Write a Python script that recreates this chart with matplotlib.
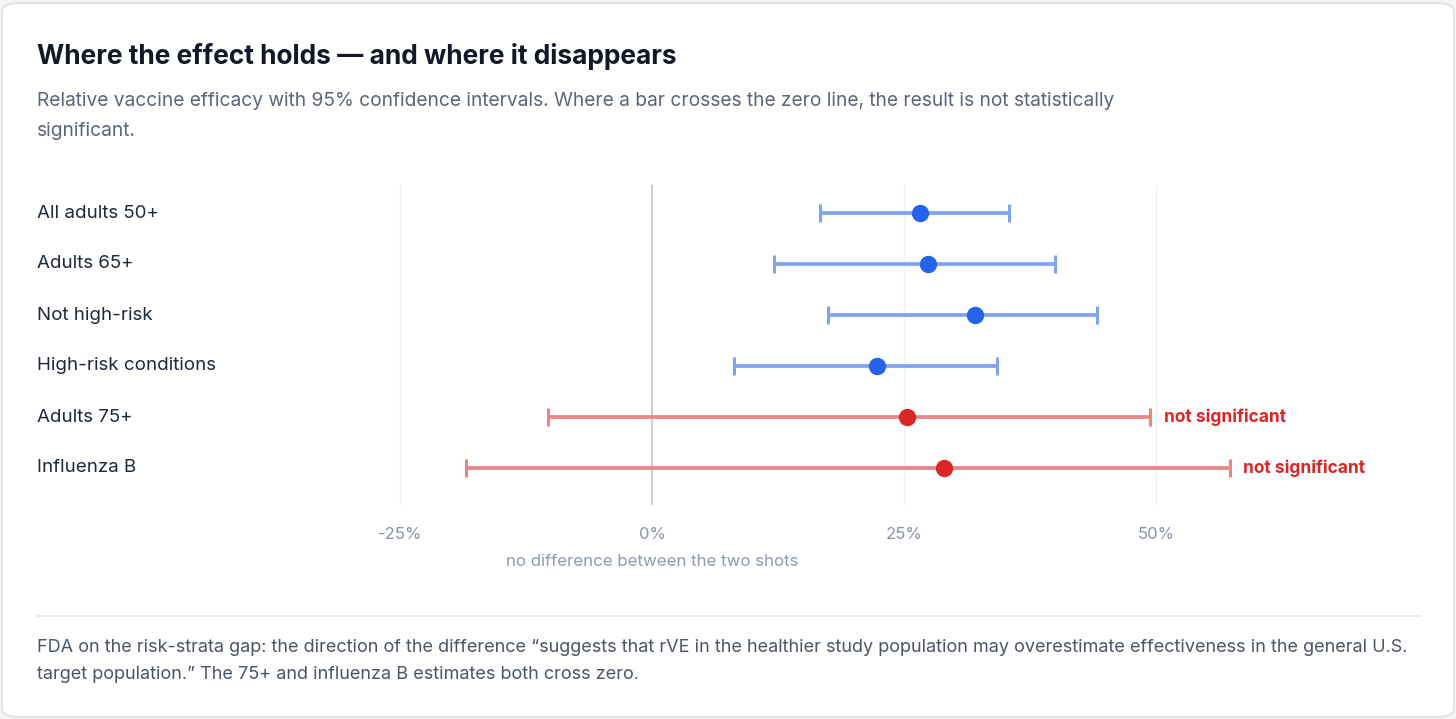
import matplotlib
matplotlib.use("Agg")
import matplotlib.pyplot as plt
from matplotlib.patches import FancyBboxPatch
from matplotlib.lines import Line2D
from matplotlib.transforms import blended_transform_factory

plt.rcParams['font.family'] = ['Inter', 'DejaVu Sans']

# ---- data ----
categories = ["All adults 50+", "Adults 65+", "Not high-risk",
              "High-risk conditions", "Adults 75+", "Influenza B"]
estimates = [26.6, 27.4, 32.0, 22.3, 25.3, 29.0]
ci_low = [16.7, 12.1, 17.5, 8.1, -10.3, -18.5]
ci_high = [35.4, 40.0, 44.1, 34.2, 49.4, 57.3]
significant = [True, True, True, True, False, False]
tick_values = [-25, 0, 25, 50]
tick_labels = ["-25%", "0%", "25%", "50%"]

title = "Where the effect holds \u2014 and where it disappears"
subtitle = ("Relative vaccine efficacy with 95% confidence intervals. Where a bar crosses the zero line, the result is not statistically\n"
            "significant.")
footer = ("FDA on the risk-strata gap: the direction of the difference \u201csuggests that rVE in the healthier study population may overestimate effectiveness in the general U.S.\n"
          "target population.\u201d The 75+ and influenza B estimates both cross zero.")

W, H = 1456, 719
fig = plt.figure(figsize=(W / 100, H / 100), dpi=100)
fig.patch.set_facecolor("#f3f4f6")

# card
card = FancyBboxPatch((2 / W, 2 / H), (W - 4) / W, (H - 5) / H,
                      boxstyle="round,pad=0,rounding_size=0.012",
                      transform=fig.transFigure, facecolor="white",
                      edgecolor="#dcdfe4", linewidth=1.2, zorder=-5)
fig.patches.append(card)

def fx(px):
    return px / W

def fy(py):
    return 1 - py / H

# axes placement (pixels)
L, R, T, B = 360, 1420, 185, 505
ax = fig.add_axes([fx(L), fy(B), (R - L) / W, (B - T) / H])
ax.set_zorder(2)
ax.set_facecolor("none")
px_per_unit = (904 - 652) / 25.0
ax.set_xlim((L - 652) / px_per_unit, (R - 652) / px_per_unit)
row_px = 51.0
ax.set_ylim(len(categories) - 1 + (B - 468) / row_px, -(213 - T) / row_px)

for s in ax.spines.values():
    s.set_visible(False)
ax.set_yticks([])
ax.set_xticks(tick_values)
ax.set_xticklabels(tick_labels)
ax.tick_params(axis="x", length=0, pad=16, labelsize=12, labelcolor="#8794a8")

for v in tick_values:
    if v == 0:
        ax.axvline(v, color="#c6d0dc", linewidth=1.6, zorder=1)
    else:
        ax.axvline(v, color="#eef0f4", linewidth=1.0, zorder=1)

blue_dot, blue_ci = "#2563eb", "#7fa3ee"
red_dot, red_ci = "#dc2626", "#ea8585"

lab_tr = blended_transform_factory(fig.transFigure, ax.transData)
for i, cat in enumerate(categories):
    dot = blue_dot if significant[i] else red_dot
    cic = blue_ci if significant[i] else red_ci
    ax.errorbar([estimates[i]], [i],
                xerr=[[estimates[i] - ci_low[i]], [ci_high[i] - estimates[i]]],
                fmt="none", ecolor=cic, elinewidth=2.7, capsize=6.5,
                capthick=2.2, zorder=2)
    ax.plot([estimates[i]], [i], "o", color=dot, markersize=12.5,
            markeredgewidth=0, zorder=3)
    ax.text(fx(37), i, cat, transform=lab_tr, ha="left", va="center",
            fontsize=13.5, color="#1f2937", clip_on=False)
    if not significant[i]:
        ax.annotate("not significant", xy=(ci_high[i], i), xytext=(10, 0),
                    textcoords="offset points", ha="left", va="center",
                    fontsize=12.5, fontweight="bold", color="#dc2626",
                    annotation_clip=False)

fig.text(fx(652), fy(562), "no difference between the two shots",
         ha="center", va="center", fontsize=12.1, color="#8e9ab0")

# titles
fig.text(fx(37), fy(56), title, ha="left", va="center", fontsize=18.9,
         fontweight="bold", color="#111827")
fig.text(fx(37), fy(116), subtitle, ha="left", va="center", fontsize=13.8,
         color="#5b6478", linespacing=1.9)

# separator
fig.add_artist(Line2D([fx(37), fx(1420)], [fy(616), fy(616)],
                      transform=fig.transFigure, color="#e5e7eb", linewidth=1.2))

fig.text(fx(37), fy(661), footer, ha="left", va="center", fontsize=13.0,
         color="#4b5563", linespacing=1.76)

fig.savefig("out.png", dpi=100, facecolor=fig.get_facecolor())
